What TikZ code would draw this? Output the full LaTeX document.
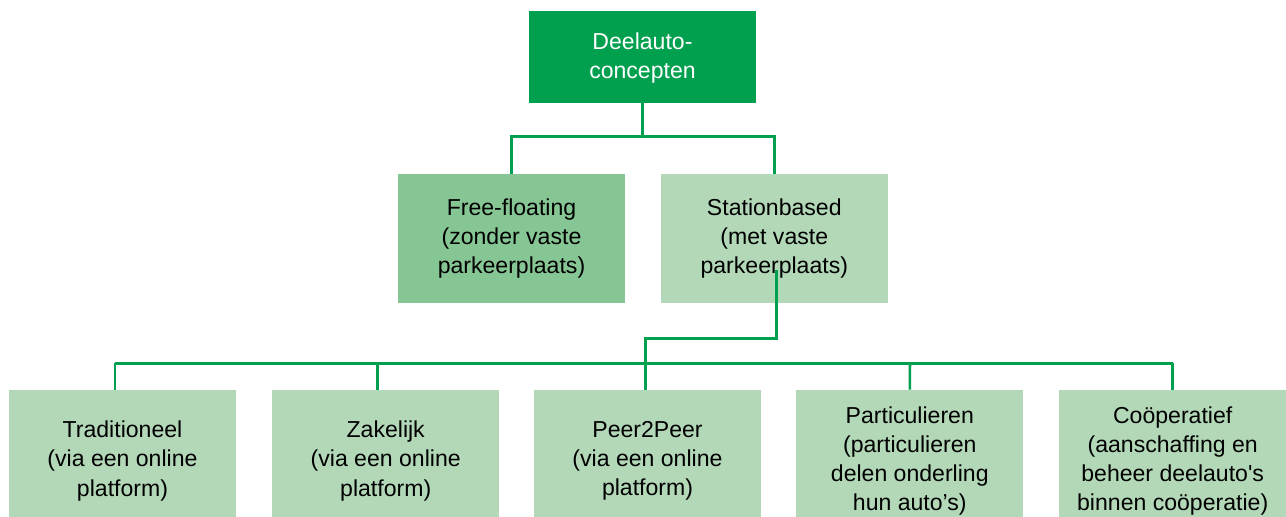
\documentclass[tikz,border=0pt]{standalone}
\usepackage{fontspec}
\setmainfont{Liberation Sans}[Ligatures=TeXOff]
\definecolor{topgreen}{HTML}{00A04F}
\definecolor{midgreen}{HTML}{86C694}
\definecolor{lightgreen}{HTML}{B3D8B8}
\definecolor{linegreen}{HTML}{00A050}
\begin{document}
\begin{tikzpicture}[x=0.75pt,y=-0.75pt,
  box/.style={rectangle,inner sep=0pt,minimum width=170.25pt,align=center,
    font=\fontsize{17.3}{21.9}\selectfont},
  topbox/.style={box,fill=topgreen,text=white,minimum height=68.8pt},
  midbox/.style={box,minimum height=96.5pt},
  lowbox/.style={box,fill=lightgreen,minimum height=106.5pt},
  conn/.style={draw=linegreen,line width=1.9pt}]
\useasboundingbox (0,0) rectangle (1286,517);
\clip (0,0) rectangle (1286,517);
\node[topbox] (top) at (642.5,56.9) {\rule{0pt}{14pt}Deelauto-\\concepten};
\node[midbox,fill=midgreen] (free) at (511.5,238.4) {Free-floating\\(zonder vaste\\parkeerplaats)};
\node[midbox,fill=lightgreen] (station) at (774.3,238.4) {Stationbased\\(met vaste\\parkeerplaats)};
\node[lowbox] (trad) at (122.5,461) {Traditioneel\\(via een online\\platform)};
\node[lowbox] (zak) at (385.7,461) {Zakelijk\\(via een online\\platform)};
\node[lowbox] (peer) at (647.5,461) {Peer2Peer\\(via een online\\platform)};
\node[lowbox] (part) at (909.8,461) {Particulieren\\(particulieren\\delen onderling\\hun auto’s)};
\node[lowbox] (coop) at (1172.7,461) {Coöperatief\\(aanschaffing en\\beheer deelauto's\\binnen coöperatie)};
% top connectors
\coordinate (tj) at (642.5,136.7);
\draw[conn] (top.south) -- (tj);
\draw[conn] (free.north) |- (tj) -| (station.north);
% station to bottom
\coordinate (sb) at (776.7,270);
\coordinate (sj) at (645.7,338.3);
\draw[conn] (sb) |- (sj) -- (sj |- peer.north);
% bus
\coordinate (busL) at (115,363.3);
\coordinate (busR) at (1172.7,363.3);
\draw[conn] (busL) -- (busR);
\draw[conn] (busL) -- (busL |- trad.north);
\draw[conn] (377.7,363.3) -- (377.7,390);
\draw[conn] (910,363.3) -- (part.north);
\draw[conn] (busR) -- (coop.north);
\end{tikzpicture}
\end{document}
